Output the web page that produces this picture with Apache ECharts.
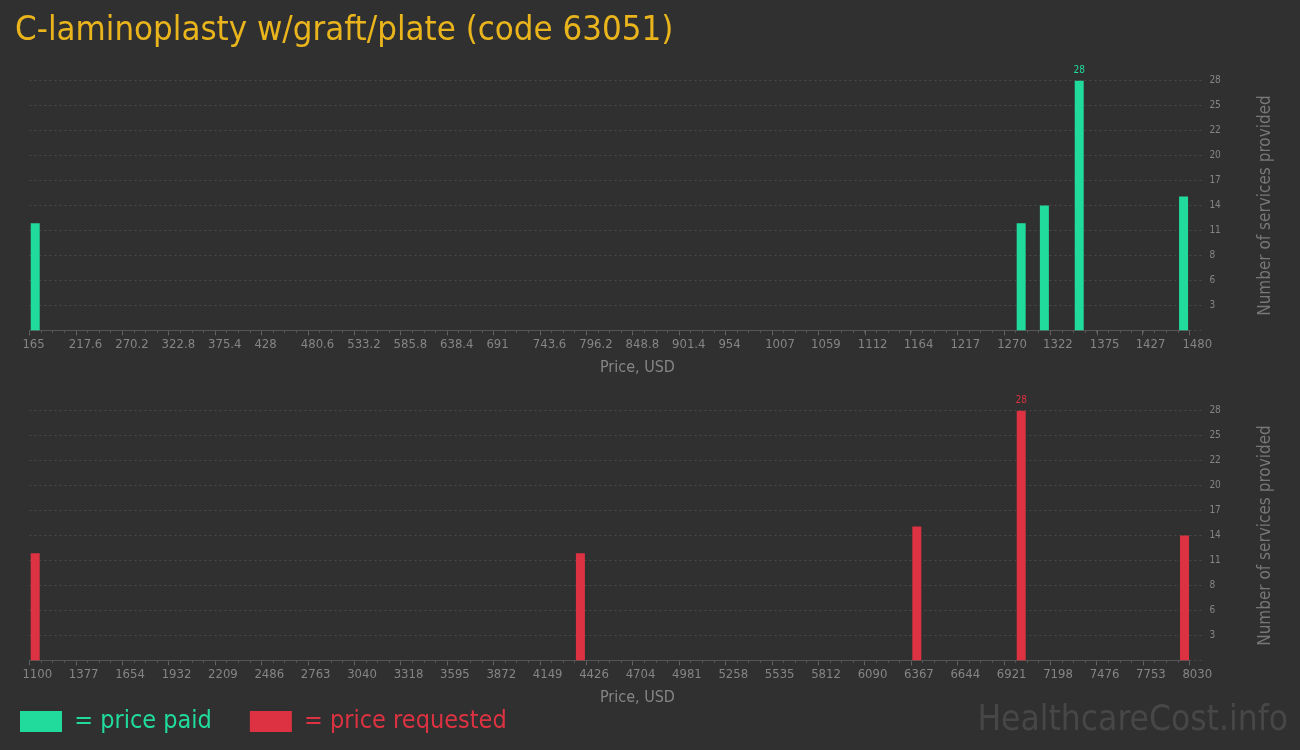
<!DOCTYPE html>
<html>
<head>
<meta charset="utf-8">
<script src="https://cdn.jsdelivr.net/npm/echarts@6/dist/echarts.min.js"></script>
<style>
html,body{margin:0;padding:0;background:#303030;}
#chart{width:1300px;height:750px;}
</style>
</head>
<body>
<div id="chart"></div>
<script>
// ---- data ----
const titleText = 'C-laminoplasty w/graft/plate (code 63051)';
const paidTickLabels = ['165','217.6','270.2','322.8','375.4','428','480.6','533.2','585.8','638.4','691','743.6','796.2','848.8','901.4','954','1007','1059','1112','1164','1217','1270','1322','1375','1427','1480'];
const requestedTickLabels = ['1100','1377','1654','1932','2209','2486','2763','3040','3318','3595','3872','4149','4426','4704','4981','5258','5535','5812','6090','6367','6644','6921','7198','7476','7753','8030'];
const countTickLabels = ['3','6','8','11','14','17','20','22','25','28'];
const paidPrices = [171.6, 1289.3, 1315.6, 1355.1, 1473.4];
const paidCounts = [12, 12, 14, 28, 15];
const requestedPrices = [1134.7, 4391.8, 6401.5, 7025.2, 8000.9];
const requestedCounts = [12, 12, 15, 28, 14];

// ---- styling ----
const FONT = "'Liberation Sans Narrow','DejaVu Sans Condensed','Roboto',sans-serif";
const GREEN = '#20db9b';
const RED = '#dc3241';
const GREY = '#858585';
const BINS = 100;

function minorTicks(labels) {
  const lo = Number(labels[0]), hi = Number(labels[labels.length - 1]);
  const out = [];
  for (let k = 0; k <= BINS; k++) out.push(lo + (hi - lo) * k / BINS);
  return out;
}

const gridTops = [80.7, 410.7];
const grids = gridTops.map(t => ({ left: 29.4, right: 110.6, top: t, height: 249.6 }));

function mainX(gi, labels) {
  const vals = labels.map(Number);
  return {
    type: 'value', gridIndex: gi, position: 'bottom',
    min: vals[0], max: vals[vals.length - 1],
    name: 'Price, USD', nameLocation: 'middle', nameGap: 30,
    nameTextStyle: { color: GREY, fontFamily: FONT, fontSize: 16, padding: [0, 0, 0, 56] },
    axisLine: { show: true, lineStyle: { color: '#555', width: 1 } },
    axisTick: { show: true, length: 5, lineStyle: { color: '#666' }, customValues: vals },
    axisLabel: {
      customValues: vals, color: GREY, fontFamily: FONT, fontSize: 13, margin: 8,
      align: 'left', padding: [0, 0, 0, -7],
      formatter: v => { let i = 0, d = Infinity; vals.forEach((x, j) => { if (Math.abs(x - v) < d) { d = Math.abs(x - v); i = j; } }); return labels[i]; }
    },
    splitLine: { show: false }
  };
}
function minorX(gi, labels) {
  const vals = labels.map(Number);
  return {
    type: 'value', gridIndex: gi, position: 'bottom', offset: 0,
    min: vals[0], max: vals[vals.length - 1],
    axisLine: { show: false },
    axisTick: { show: true, length: 2.5, lineStyle: { color: '#5a5a5a' }, customValues: minorTicks(labels) },
    axisLabel: { show: false },
    splitLine: { show: false }
  };
}
function yAx(gi) {
  return {
    type: 'value', gridIndex: gi, position: 'right',
    min: 0, max: 28, interval: 2.8,
    name: 'Number of services provided', nameLocation: 'middle', nameGap: 68, nameRotate: 90,
    nameTextStyle: { color: '#777', fontFamily: FONT, fontSize: 17 },
    axisLine: { show: false },
    axisTick: { show: true, length: 14, lineStyle: { color: '#4a4a4a', type: [2, 3] } },
    axisLabel: {
      color: GREY, fontFamily: FONT, fontSize: 10, margin: 20, align: 'left',
      formatter: v => { const i = Math.round(v / 2.8) - 1; return i >= 0 ? countTickLabels[i] : ''; }
    },
    splitLine: { show: true, lineStyle: { color: '#4a4a4a', type: [2, 3] } }
  };
}
function barSeries(name, prices, counts, color, xi, yi) {
  const mx = Math.max.apply(null, counts);
  return {
    name: name, type: 'bar', xAxisIndex: xi, yAxisIndex: yi,
    barWidth: 9, itemStyle: { color: color },
    data: prices.map((p, i) => [p, counts[i]]),
    label: {
      show: true, position: 'top', distance: 5, color: color, fontFamily: FONT, fontSize: 10,
      formatter: p => (p.value[1] === mx ? String(p.value[1]) : '')
    }
  };
}

const chart = echarts.init(document.getElementById('chart'), null, { renderer: 'canvas' });
chart.setOption({
  backgroundColor: '#303030',
  animation: false,
  title: {
    text: titleText, left: 10, top: 9,
    textStyle: { color: '#e9b41c', fontFamily: FONT, fontSize: 34.5, fontWeight: 'normal' }
  },
  legend: {
    left: 15, top: 704, itemWidth: 42, itemHeight: 21, itemGap: 38,
    icon: 'rect',
    data: [
      { name: 'price paid', textStyle: { color: GREEN } },
      { name: 'price requested', textStyle: { color: RED } }
    ],
    formatter: n => ' = ' + n,
    textStyle: { fontFamily: FONT, fontSize: 25 }
  },
  grid: grids,
  xAxis: [mainX(0, paidTickLabels), minorX(0, paidTickLabels), mainX(1, requestedTickLabels), minorX(1, requestedTickLabels)],
  yAxis: [yAx(0), yAx(1)],
  series: [
    barSeries('price paid', paidPrices, paidCounts, GREEN, 0, 0),
    barSeries('price requested', requestedPrices, requestedCounts, RED, 2, 1)
  ],
  graphic: [{
    type: 'text', right: 12, bottom: 12,
    style: { text: 'HealthcareCost.info', fill: '#474747', font: '35px ' + FONT }
  }]
});
</script>
</body>
</html>
